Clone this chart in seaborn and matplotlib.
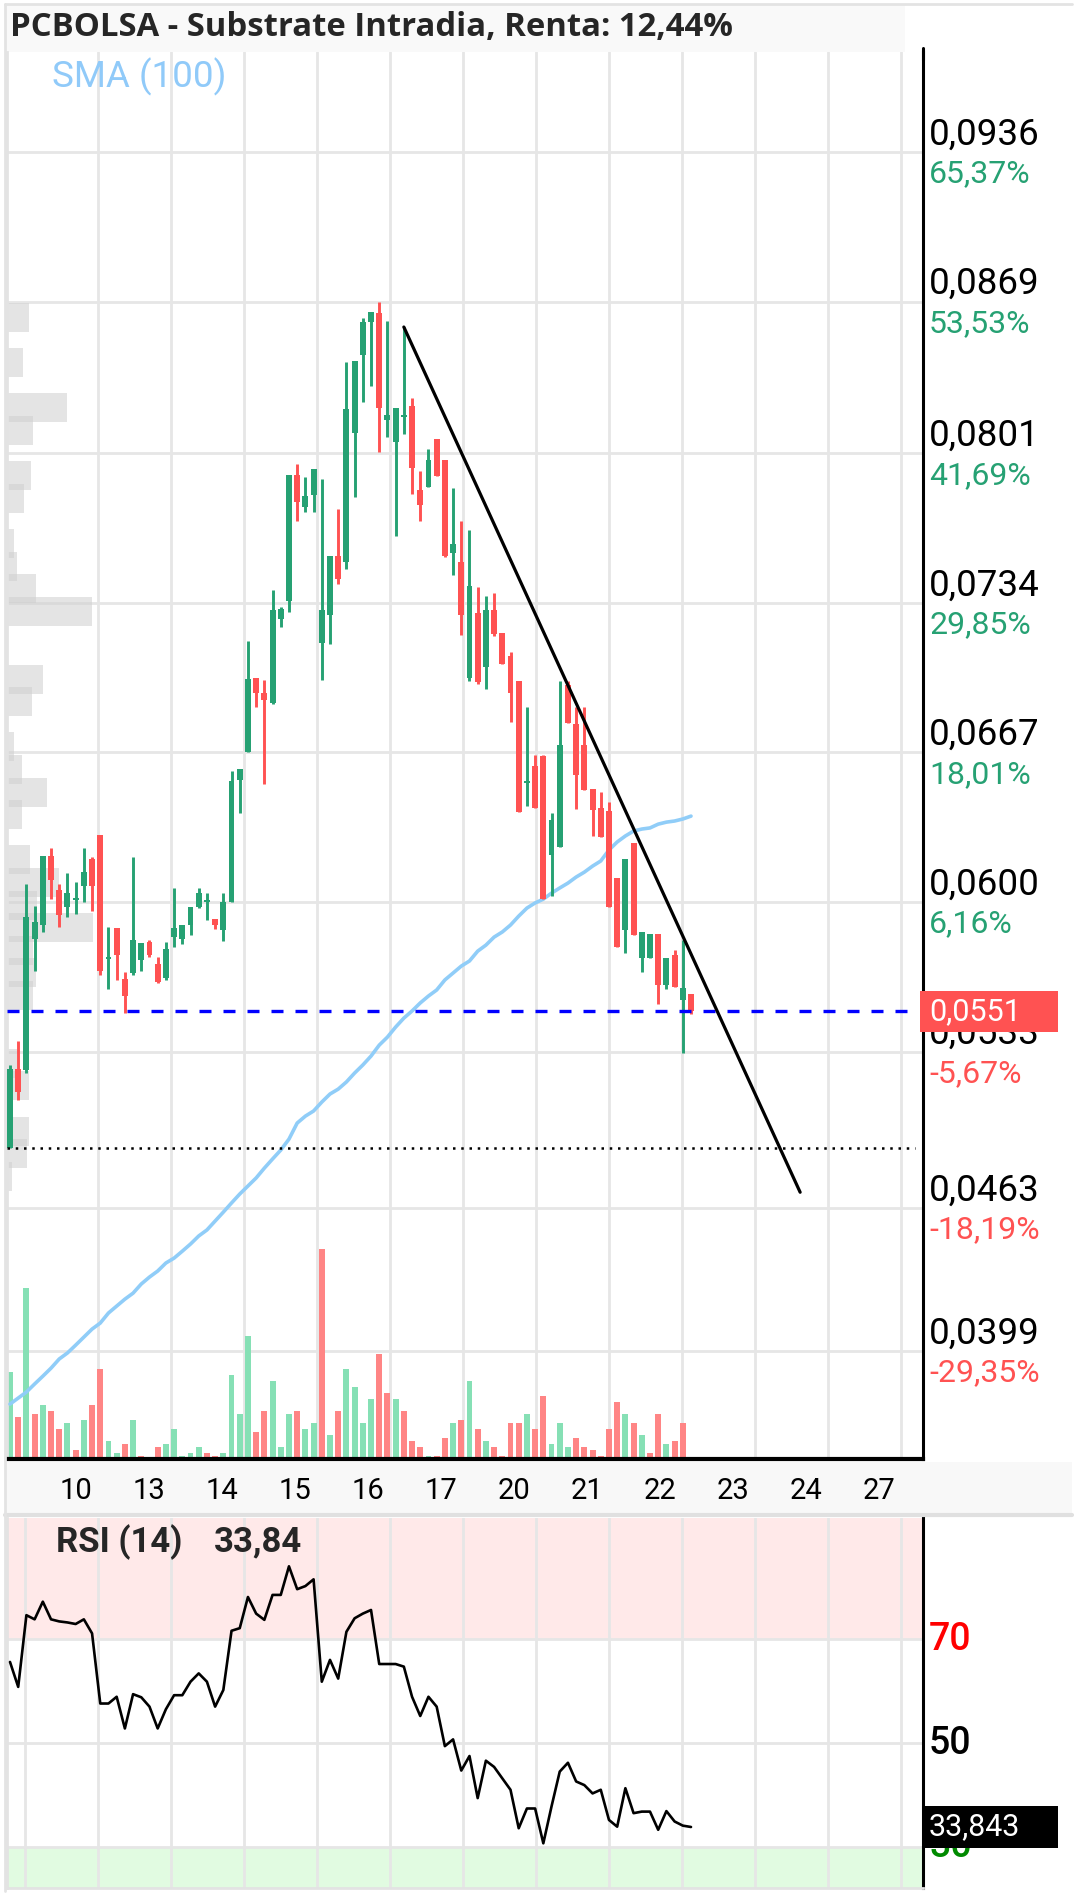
import numpy as np
import matplotlib
matplotlib.use("Agg")
import matplotlib.pyplot as plt
import matplotlib.transforms as mtransforms
from matplotlib.patches import Rectangle
from matplotlib.lines import Line2D
import seaborn as sns

# ---------------- datos ----------------
apertura = [0.04898, 0.05252, 0.05247, 0.05834, 0.05897, 0.06206, 0.06054, 0.05978, 0.06010, 0.06072,
            0.06193, 0.06300, 0.05745, 0.05884, 0.05655, 0.05682, 0.05740, 0.05821, 0.05722, 0.05660,
            0.05843, 0.05834, 0.05897, 0.05978, 0.06000, 0.05924, 0.05875, 0.06000, 0.06547, 0.06672,
            0.07004, 0.06936, 0.06892, 0.07270, 0.07348, 0.07913, 0.07770, 0.07823, 0.07160, 0.07286,
            0.07550, 0.07523, 0.08101, 0.08451, 0.08598, 0.08639, 0.08159, 0.08061, 0.08173, 0.08222,
            0.07846, 0.07859, 0.08074, 0.07980, 0.07564, 0.07523, 0.07004, 0.07295, 0.07053, 0.07308,
            0.07205, 0.07102, 0.06990, 0.06533, 0.06609, 0.06654, 0.06211, 0.06246, 0.06972, 0.06797,
            0.06703, 0.06506, 0.06421, 0.06408, 0.06108, 0.05875, 0.06264, 0.05749, 0.05749, 0.05857,
            0.05628, 0.05763, 0.05561, 0.05588]
cierre = [0.05252, 0.05149, 0.05933, 0.05910, 0.06206, 0.06099, 0.05942, 0.06040, 0.06020, 0.06134,
          0.06072, 0.05691, 0.05752, 0.05763, 0.05579, 0.05830, 0.05816, 0.05763, 0.05642, 0.05789,
          0.05884, 0.05897, 0.05978, 0.06040, 0.06009, 0.05897, 0.06000, 0.06542, 0.06596, 0.06999,
          0.06936, 0.06905, 0.07308, 0.07312, 0.07913, 0.07792, 0.07819, 0.07940, 0.07308, 0.07550,
          0.07447, 0.08209, 0.08424, 0.08598, 0.08643, 0.08213, 0.08182, 0.08213, 0.08182, 0.07944,
          0.07779, 0.07980, 0.07908, 0.07550, 0.07604, 0.07286, 0.07416, 0.06986, 0.07308, 0.07201,
          0.07066, 0.06936, 0.06403, 0.06542, 0.06421, 0.06013, 0.06367, 0.06703, 0.06802, 0.06569,
          0.06502, 0.06412, 0.06291, 0.05978, 0.05798, 0.06193, 0.05852, 0.05866, 0.05857, 0.05628,
          0.05749, 0.05619, 0.05615, 0.05510]
maximo = [0.05270, 0.05377, 0.06081, 0.05982, 0.06206, 0.06242, 0.06081, 0.06130, 0.06090, 0.06242,
          0.06202, 0.06300, 0.05888, 0.05884, 0.05686, 0.06202, 0.05816, 0.05830, 0.05754, 0.05821,
          0.06063, 0.05897, 0.05978, 0.06063, 0.06040, 0.05924, 0.06040, 0.06587, 0.06596, 0.07169,
          0.07004, 0.06995, 0.07398, 0.07320, 0.07913, 0.07962, 0.07904, 0.07940, 0.07895, 0.07550,
          0.07761, 0.08419, 0.08424, 0.08616, 0.08643, 0.08688, 0.08603, 0.08213, 0.08576, 0.08258,
          0.07931, 0.08029, 0.08074, 0.07980, 0.07855, 0.07707, 0.07667, 0.07411, 0.07371, 0.07384,
          0.07205, 0.07120, 0.06990, 0.06874, 0.06659, 0.06659, 0.06399, 0.06990, 0.06990, 0.06874,
          0.06874, 0.06506, 0.06493, 0.06448, 0.06108, 0.06193, 0.06264, 0.05866, 0.05857, 0.05857,
          0.05749, 0.05785, 0.05830, 0.05588]
minimo = [0.04898, 0.05113, 0.05234, 0.05691, 0.05866, 0.06013, 0.05888, 0.05933, 0.05946, 0.06000,
          0.05960, 0.05673, 0.05610, 0.05651, 0.05503, 0.05673, 0.05691, 0.05754, 0.05637, 0.05651,
          0.05798, 0.05812, 0.05852, 0.05973, 0.05919, 0.05879, 0.05825, 0.06000, 0.06399, 0.06672,
          0.06874, 0.06529, 0.06887, 0.07232, 0.07299, 0.07707, 0.07747, 0.07747, 0.06995, 0.07156,
          0.07425, 0.07492, 0.07814, 0.08240, 0.08312, 0.08016, 0.08083, 0.07640, 0.08097, 0.07828,
          0.07707, 0.07859, 0.07908, 0.07546, 0.07465, 0.07196, 0.06990, 0.06977, 0.06954, 0.07192,
          0.07066, 0.06806, 0.06403, 0.06430, 0.06421, 0.06013, 0.06027, 0.06246, 0.06802, 0.06417,
          0.06502, 0.06296, 0.06291, 0.05978, 0.05798, 0.05772, 0.05852, 0.05686, 0.05749, 0.05543,
          0.05610, 0.05619, 0.05324, 0.05500]
# volumen (miles de titulos)
volumen = [87, 42, 171, 45, 54, 48, 30, 36, 9, 39,
           54, 90, 18, 6, 15, 39, 3, 0, 12, 15,
           30, 3, 6, 12, 6, 3, 6, 84, 45, 123,
           27, 48, 78, 12, 45, 48, 30, 36, 210, 24,
           48, 90, 72, 36, 60, 105, 66, 60, 48, 18,
           12, 3, 3, 21, 36, 39, 78, 30, 18, 12,
           3, 36, 36, 45, 30, 63, 15, 36, 12, 21,
           12, 9, 3, 30, 57, 45, 36, 24, 6, 45,
           15, 18, 36, 0]
sma100 = [0.03751, 0.03778, 0.03805, 0.03841, 0.03876, 0.03912, 0.03953, 0.03980, 0.04015, 0.04051,
          0.04087, 0.04114, 0.04159, 0.04190, 0.04221, 0.04248, 0.04289, 0.04320, 0.04347, 0.04383,
          0.04405, 0.04436, 0.04468, 0.04504, 0.04531, 0.04571, 0.04611, 0.04652, 0.04692, 0.04728,
          0.04764, 0.04808, 0.04849, 0.04889, 0.04938, 0.05010, 0.05041, 0.05064, 0.05104, 0.05140,
          0.05162, 0.05194, 0.05234, 0.05270, 0.05310, 0.05359, 0.05395, 0.05440, 0.05480, 0.05512,
          0.05548, 0.05579, 0.05606, 0.05651, 0.05682, 0.05713, 0.05736, 0.05780, 0.05807, 0.05843,
          0.05866, 0.05897, 0.05937, 0.05973, 0.05996, 0.06013, 0.06040, 0.06063, 0.06085, 0.06112,
          0.06134, 0.06161, 0.06184, 0.06233, 0.06269, 0.06296, 0.06318, 0.06327, 0.06332, 0.06349,
          0.06358, 0.06363, 0.06372, 0.06385]
rsi14 = [65.6, 60.8, 74.6, 73.8, 77.2, 73.8, 73.4, 73.2, 72.9, 73.8,
         71.1, 57.6, 57.6, 58.9, 52.8, 59.4, 58.8, 57.0, 52.8, 56.5,
         59.2, 59.2, 61.8, 63.4, 61.8, 57.0, 60.2, 71.6, 72.1, 78.1,
         74.9, 73.7, 78.5, 78.5, 84.0, 79.6, 80.2, 81.5, 61.8, 66.0,
         62.4, 71.4, 74.0, 74.9, 75.6, 65.2, 65.2, 65.2, 64.7, 58.9,
         55.2, 58.9, 57.0, 49.4, 50.7, 44.7, 47.5, 39.4, 46.6, 45.4,
         43.2, 41.0, 33.6, 37.4, 37.4, 30.7, 37.8, 44.5, 46.2, 42.6,
         41.9, 40.3, 41.0, 35.2, 33.9, 41.3, 36.5, 36.8, 36.8, 33.3,
         36.9, 34.9, 34.1, 33.84]
# perfil de volumen por niveles de precio (de arriba a abajo)
perfil = [22, 0, 16, 0, 60, 26, 0, 24, 17, 1,
          7, 10, 29, 85, 1, 0, 36, 25, 1, 7,
          15, 40, 15, 1, 23, 52, 30, 86, 26, 29,
          26, 0, 0, 10, 22, 0, 22, 20, 5]

precio_actual = 0.0551
soporte = 0.04898
rsi_actual = 33.843
tendencia_x = [48, 96.3]
tendencia_y = [0.08576, 0.0470]

niveles = [0.0936, 0.0869, 0.0801, 0.0734, 0.0667, 0.0600, 0.0533, 0.0463, 0.0399]
precios_eje = ["0,0936", "0,0869", "0,0801", "0,0734", "0,0667", "0,0600", "0,0533", "0,0463", "0,0399"]
rentas_eje = ["65,37%", "53,53%", "41,69%", "29,85%", "18,01%", "6,16%", "-5,67%", "-18,19%", "-29,35%"]
fechas = ["10", "13", "14", "15", "16", "17", "20", "21", "22", "23", "24", "27"]
titulo = "PCBOLSA - Substrate Intradia, Renta: 12,44%"

# ---------------- estilo ----------------
sns.set_theme(style="white")
plt.rcParams['font.family'] = ['Roboto', 'DejaVu Sans']

VERDE, ROJO = '#26a173', '#ff5252'
VVOL, RVOL = '#86e0b5', '#ff8585'
GRID = '#e6e6e6'

W, H = 1076, 1895
fig = plt.figure(figsize=(W / 100, H / 100), dpi=100)
fig.patch.set_facecolor('white')


def fx(px):
    return px / W


def fy(py):
    return 1 - py / H


paso = 8.205  # px por vela
xlim = ((7 - 10) / paso, (923 - 10) / paso)
vgrid = 10.725 + 8.897 * np.arange(12)
pos_fechas = 8.04 + 8.897 * np.arange(12)

# ---------------- panel de precios ----------------
ax = fig.add_axes([fx(7), fy(1459), (923 - 7) / W, (1459 - 52) / H])
ax.set_xlim(xlim)
ax.set_ylim(0.03505, 0.09808)
ax.set_yticks(niveles)
ax.set_xticks(vgrid)
ax.grid(True, color=GRID, lw=2)
ax.set_axisbelow(True)
ax.tick_params(length=0, labelbottom=False, labelleft=False)
ax.spines['top'].set_visible(False)
ax.spines['left'].set_color('#e3e3e3')
ax.spines['left'].set_linewidth(2)
ax.spines['right'].set_color('black')
ax.spines['right'].set_linewidth(2.2)
ax.spines['bottom'].set_color('black')
ax.spines['bottom'].set_linewidth(3)

o = np.array(apertura)
c = np.array(cierre)
hi = np.array(maximo)
lo = np.array(minimo)
n = len(o)
idx = np.arange(n)

# perfil de volumen a la izquierda
tr_p = mtransforms.blended_transform_factory(ax.transAxes, ax.transData)
prof_y = 0.08619 - 0.0010125 * np.arange(len(perfil))
ax.barh(prof_y, np.array(perfil) / 916, left=0, height=0.0013, color='#cfcfcf',
        alpha=0.55, transform=tr_p, zorder=1.5, lw=0)

# volumen
tr_v = mtransforms.blended_transform_factory(ax.transData, ax.transAxes)
vsube = np.r_[True, c[1:] >= c[:-1]]
ax.bar(idx, np.array(volumen) / 1407, bottom=0.0, width=0.72,
       color=np.where(vsube, VVOL, RVOL), transform=tr_v, zorder=2, lw=0)

# media movil
sns.lineplot(x=idx, y=sma100, ax=ax, color='#90cdf8', lw=2.6, zorder=3, legend=False)

# velas
col = np.where(c >= o, VERDE, ROJO)
ax.vlines(idx, lo, hi, colors=col, lw=2.1, zorder=4)
ax.bar(idx, np.maximum(np.abs(c - o), 0.00007), bottom=np.minimum(o, c), width=0.72,
       color=col, zorder=4, lw=0)

# lineas horizontales y tendencia
ax.axhline(precio_actual, xmin=0, xmax=0.991, color='#0000ff', lw=2.4, dashes=(3.6, 3.6), zorder=5)
ax.axhline(soporte, xmin=0, xmax=0.991, color='black', lw=1.8, dashes=(1, 2.3), zorder=5)
ax.plot(tendencia_x, tendencia_y, color='black', lw=2.3, zorder=6, solid_capstyle='round')

# etiquetas del eje derecho
xl = 1 + 6 / 916
up = mtransforms.ScaledTranslation(0, 0.175, fig.dpi_scale_trans)
dn = mtransforms.ScaledTranslation(0, -0.22, fig.dpi_scale_trans)
for v, p, r in zip(niveles, precios_eje, rentas_eje):
    ax.text(xl, v, p, transform=tr_p + up, fontsize=26.5, va='center', ha='left',
            color='black', clip_on=False)
    ax.text(xl, v, r, transform=tr_p + dn, fontsize=23, va='center', ha='left',
            color=ROJO if r.startswith('-') else VERDE, clip_on=False)

ax.add_patch(Rectangle((1 - 3 / 916, precio_actual - 0.00092), 138 / 916, 0.00184,
                       transform=tr_p, facecolor=ROJO, edgecolor='none', clip_on=False, zorder=10))
ax.text(xl, precio_actual, "0,0551", transform=tr_p, color='white', fontsize=22,
        va='center', ha='left', zorder=11, clip_on=False)

# fechas
tr_f = mtransforms.blended_transform_factory(ax.transData, fig.transFigure)
for xp, f in zip(pos_fechas, fechas):
    ax.text(xp, fy(1491), f, transform=tr_f, fontsize=21, ha='center', va='center',
            color='black', clip_on=False, zorder=12)

# ---------------- panel RSI ----------------
axr = fig.add_axes([fx(7), fy(1888), (923 - 7) / W, (1888 - 1518) / H])
axr.set_xlim(xlim)
axr.set_ylim(22.1, 93.3)
axr.axhspan(70, 100, color='#ffe9e9', zorder=0.1, lw=0)
axr.axhspan(0, 30, color='#e1fbe1', zorder=0.1, lw=0)
axr.set_yticks([30, 50, 70])
axr.set_xticks(np.r_[(25 - 10) / paso, vgrid])
axr.grid(True, color=GRID, lw=2)
axr.set_axisbelow(True)
axr.tick_params(length=0, labelbottom=False, labelleft=False)
axr.spines['top'].set_visible(False)
for s in ['left', 'bottom']:
    axr.spines[s].set_color('#e3e3e3')
    axr.spines[s].set_linewidth(2)
axr.spines['right'].set_color('black')
axr.spines['right'].set_linewidth(2.2)

sns.lineplot(x=idx, y=rsi14, ax=axr, color='black', lw=1.9, zorder=4, legend=False)
axr.set_xlabel('')
axr.set_ylabel('')
ax.set_xlabel('')
ax.set_ylabel('')

tr_r = mtransforms.blended_transform_factory(axr.transAxes, axr.transData)
for v, colr in [(70, '#ff0000'), (50, 'black'), (30, '#008a00')]:
    axr.text(xl, v, str(v), transform=tr_r, fontsize=27, fontweight='medium',
             va='center', ha='left', color=colr, clip_on=False)
axr.add_patch(Rectangle((1 - 1 / 916, rsi_actual - 4.04), 136 / 916, 8.08, transform=tr_r,
                        facecolor='black', edgecolor='none', clip_on=False, zorder=10))
axr.text(xl, rsi_actual, "33,843", transform=tr_r, color='white', fontsize=22,
         va='center', ha='left', zorder=11, clip_on=False)

fig.text(fx(56), fy(1542), "RSI (14)", fontsize=25, fontweight='bold', va='center', ha='left')
fig.text(fx(214), fy(1542), "33,84", fontsize=25, fontweight='bold', va='center', ha='left')

# ---------------- cabecera y marcos ----------------
fig.patches.append(Rectangle((fx(5), fy(52)), (905 - 5) / W, 47 / H, transform=fig.transFigure,
                             facecolor='#f9f9f9', edgecolor='none', zorder=-1))
fig.patches.append(Rectangle((fx(5), fy(1513)), (1072 - 5) / W, 51 / H, transform=fig.transFigure,
                             facecolor='#f8f8f8', edgecolor='none', zorder=-1))
fig.lines.append(Line2D([fx(5), fx(1072)], [fy(1515), fy(1515)], transform=fig.transFigure,
                        color='#e0e0e0', lw=3))
fig.lines.append(Line2D([fx(5), fx(1072)], [fy(4), fy(4)], transform=fig.transFigure,
                        color='#e3e3e3', lw=2))
fig.lines.append(Line2D([fx(5), fx(5)], [fy(4), fy(1891)], transform=fig.transFigure,
                        color='#e3e3e3', lw=2))
fig.lines.append(Line2D([fx(923), fx(923)], [fy(48), fy(60)], transform=fig.transFigure,
                        color='black', lw=2.2))

fig.text(fx(10), fy(28), titulo, fontsize=23.7, fontweight='bold',
         family=['Open Sans', 'DejaVu Sans'], va='center', ha='left')
fig.text(fx(52), fy(77), "SMA (100)", fontsize=26.5, color='#90caf9', va='center', ha='left')

fig.savefig('out.png', dpi=100)
